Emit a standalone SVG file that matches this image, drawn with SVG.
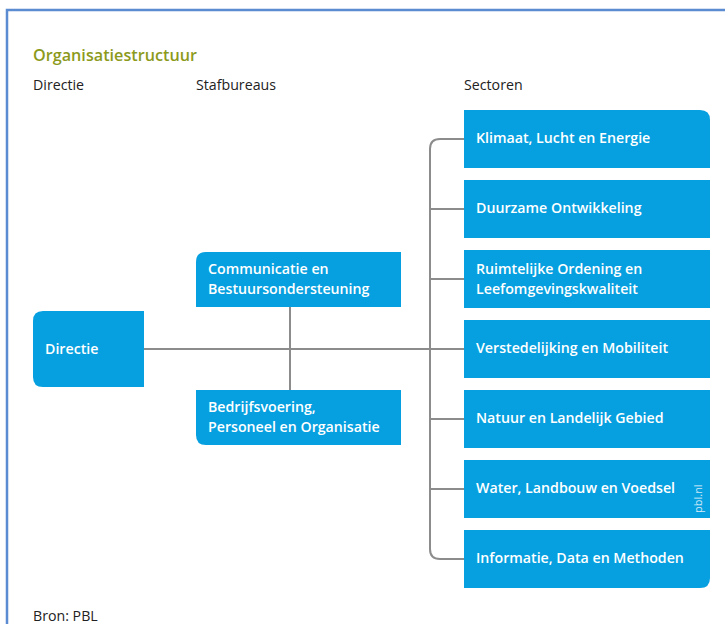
<svg xmlns="http://www.w3.org/2000/svg" width="725" height="624" viewBox="0 0 725 624">
<style>
.box{fill:#069fe0}
.lbl{font-family:"Open Sans","Liberation Sans",sans-serif;font-size:14.2px;font-weight:600;fill:#ffffff}
.hd{font-family:"Open Sans","Liberation Sans",sans-serif;font-size:14.2px;fill:#222222}
.ln{stroke:#8c8c8c;stroke-width:2;fill:none}
</style>
<rect x="0" y="0" width="725" height="624" fill="#ffffff"/>
<path d="M7 624 V10 H725" fill="none" stroke="#5b8bd0" stroke-width="2.5"/>
<text x="33" y="61" font-family="'Open Sans','Liberation Sans',sans-serif" font-size="16.2" font-weight="600" fill="#8c9a1c">Organisatiestructuur</text>
<text class="hd" x="33" y="90">Directie</text>
<text class="hd" x="196" y="90">Stafbureaus</text>
<text class="hd" x="464" y="90">Sectoren</text>
<g id="connectors">
<path class="ln" d="M144 349 H464"/>
<path class="ln" d="M290 307 V390"/>
<path class="ln" d="M464 139 H440 Q430 139 430 149 V549 Q430 559 440 559 H464"/>
<path class="ln" d="M430 209 H464 M430 279 H464 M430 419 H464 M430 489 H464"/>
</g>
<g id="n-directie">
<path class="box" d="M43 311 H144 V387 H43 Q33 387 33 377 V321 Q33 311 43 311 Z"/>
<text class="lbl" x="45" y="354">Directie</text>
</g>
<g id="n-communicatie">
<path class="box" d="M206 252 H401 V307 H196 V262 Q196 252 206 252 Z"/>
<text class="lbl" x="208" y="274">Communicatie en</text>
<text class="lbl" x="208" y="294">Bestuursondersteuning</text>
</g>
<g id="n-bedrijfsvoering">
<path class="box" d="M196 390 H401 V445 H206 Q196 445 196 435 Z"/>
<text class="lbl" x="208" y="412">Bedrijfsvoering,</text>
<text class="lbl" x="208" y="432">Personeel en Organisatie</text>
</g>
<g id="n-klimaat">
<path class="box" d="M464 110 H700 Q710 110 710 120 V168 H464 Z"/>
<text class="lbl" x="476" y="143">Klimaat, Lucht en Energie</text>
</g>
<g id="n-duurzame">
<rect class="box" x="464" y="180" width="246" height="58"/>
<text class="lbl" x="476" y="213">Duurzame Ontwikkeling</text>
</g>
<g id="n-ruimtelijke">
<rect class="box" x="464" y="250" width="246" height="58"/>
<text class="lbl" x="476" y="274">Ruimtelijke Ordening en</text>
<text class="lbl" x="476" y="294">Leefomgevingskwaliteit</text>
</g>
<g id="n-verstedelijking">
<rect class="box" x="464" y="320" width="246" height="58"/>
<text class="lbl" x="476" y="353">Verstedelijking en Mobiliteit</text>
</g>
<g id="n-natuur">
<rect class="box" x="464" y="390" width="246" height="58"/>
<text class="lbl" x="476" y="423">Natuur en Landelijk Gebied</text>
</g>
<g id="n-water">
<rect class="box" x="464" y="460" width="246" height="58"/>
<text class="lbl" x="476" y="493">Water, Landbouw en Voedsel</text>
<text x="702" y="513" transform="rotate(-90 702 513)" font-family="'Open Sans','Liberation Sans',sans-serif" font-size="11" fill="#cfe9f8">pbl.nl</text>
</g>
<g id="n-informatie">
<path class="box" d="M464 530 H710 V578 Q710 588 700 588 H464 Z"/>
<text class="lbl" x="476" y="563">Informatie, Data en Methoden</text>
</g>
<text class="hd" x="33" y="621" font-size="13">Bron: PBL</text>
</svg>
